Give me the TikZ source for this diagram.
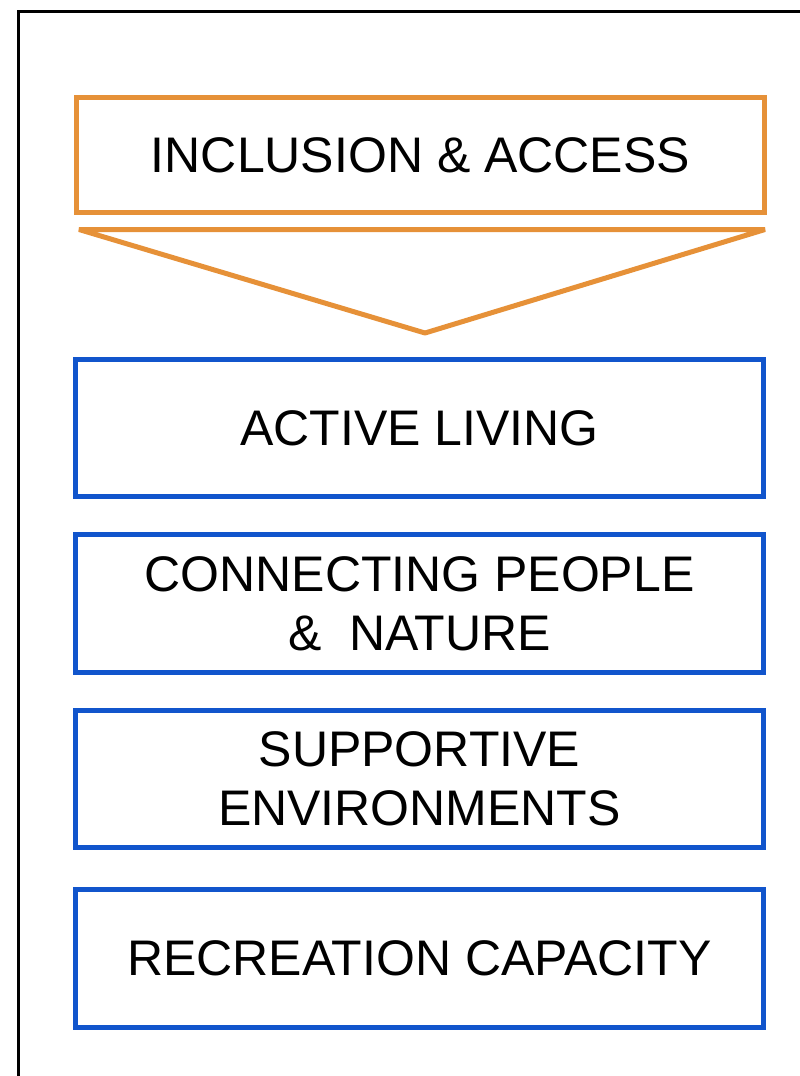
\documentclass[tikz,border=0pt]{standalone}
\usepackage{fontspec}
\setmainfont{Liberation Sans}
\definecolor{accorange}{HTML}{E69138}
\definecolor{accblue}{HTML}{1155CC}
\tikzset{
  goal/.style={draw,line width=3.75pt,minimum width=516pt,inner sep=0pt,outer sep=0pt,
    align=center,font=\fontsize{37.5pt}{44pt}\selectfont},
  access/.style={goal,draw=accorange,minimum height=86.25pt},
  theme/.style={goal,draw=accblue,minimum height=103.2pt}
}

\begin{document}
\begin{tikzpicture}[x=0.75pt,y=-0.75pt]
\useasboundingbox (0,0) rectangle (800,1076);
\clip (0,0) rectangle (800,1076);
% frame
\draw[line width=2pt] (18.7,11.5) rectangle (840,1110);
\coordinate (I) at (420.5,155);
\coordinate (A) at (419.5,428);
\coordinate (P) at (419.5,603.5);
\coordinate (S) at (419.5,779);
\coordinate (R) at (419.5,958.3);
\coordinate (TL) at (79,229.5);
\coordinate (TR) at (765,229.5);
\coordinate (TB) at (425,333);
\draw[accorange,line width=3.75pt,line join=bevel] (TL) -- (TR) -- (TB) -- cycle;
\node[access] (incl) at (I) {INCLUSION \& ACCESS};
\node[theme] (active) at (A) {ACTIVE LIVING};
\node[theme] (people) at (P) {CONNECTING PEOPLE\\\&~~NATURE};
\node[theme] (support) at (S) {SUPPORTIVE\\ENVIRONMENTS};
\node[theme] (recr) at (R) {RECREATION CAPACITY};
\end{tikzpicture}
\end{document}
